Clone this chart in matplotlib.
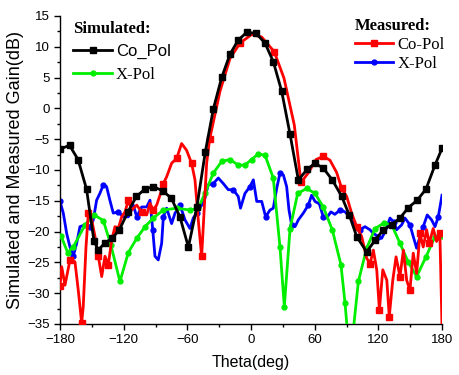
import matplotlib
matplotlib.use("Agg")
import matplotlib.pyplot as plt
from matplotlib.ticker import MultipleLocator

# === DATA ===
sim_co_theta = [-180, -171, -163, -155, -148, -144, -138, -131, -124, -116, -108, -100, -92,
                -83, -75, -67, -59, -51, -43, -35.5, -27.6, -19.8, -12, -4, 4.7, 13.2, 21,
                28.9, 36.8, 44.6, 53, 60.3, 68.1, 76.6, 85.5, 92.6, 99.6, 109, 116.9, 124.7,
                132.6, 140.4, 148.3, 156.7, 164.9, 173.4, 180]
sim_co_gain = [-6.6, -6.0, -8.3, -13.1, -21.5, -23, -21.9, -21.1, -19.7, -16.8, -14.3, -13.1, -12.7,
               -13.4, -14.6, -17.6, -22.5, -16, -7.0, -0.1, 5.05, 8.8, 11.1, 12.35, 12.2, 10.6, 7.6,
               2.8, -4.2, -11.6, -9.9, -8.9, -9.7, -11.6, -14.3, -17.3, -20.8, -23.3, -21.4, -19.7,
               -18.9, -17.8, -16.1, -14.9, -13.1, -9.2, -6.5]

sim_x_theta = [-179, -172.8, -167.5, -156.4, -147.7, -139.2, -132, -123.5, -115.6, -107.7, -99.9,
               -92.1, -82.6, -70, -57.5, -49.7, -43.4, -35.5, -27.6, -19.8, -12, -5.7, 0.5, 6.8,
               13.2, 21, 27.3, 31.4, 36.8, 44, 52.5, 60.3, 68.1, 76.6, 84.8, 88.6, 90.8, 93.5,
               96.4, 101.2, 109, 116.9, 125.3, 132.6, 140.4, 148.3, 156.1, 164.9, 173.4, 180]
sim_x_gain = [-20.7, -23.4, -22.5, -18.9, -17.3, -18.2, -22.2, -28.1, -23.4, -21.1, -19.2,
              -17.8, -16.5, -16.2, -16.5, -16.2, -13.8, -10.5, -8.6, -8.3, -9.2, -9.2, -8.3, -7.4,
              -7.6, -11.3, -22.5, -32.2, -19.5, -13.8, -13.0, -13.8, -16.0, -19.7, -25.4, -31.6,
              -36, -38, -36, -28.1, -22.7, -19.5, -18.6, -18.9, -21.9, -25, -27.3, -24.1, -20.8, -20.7]

meas_co_theta = [-180, -178.4, -175.3, -170.6, -165.9, -162.8, -159.6, -158.1, -155.5, -153.3,
                 -150.1, -147, -143.9, -140.7, -137.6, -134.5, -131.3, -128.2, -125, -121.9,
                 -118.7, -115.6, -112.4, -107.7, -103, -98.3, -95.2, -92.1, -88.9, -85.8, -82.6,
                 -79.5, -74.8, -70, -65.4, -60.7, -56, -52.8, -49.7, -46.5, -44.3, -41.8, -39,
                 -29.2, -19.8, -10.4, 0.6, 10, 21.9, 31.1, 40.8, 47.1, 53.9, 61.3, 68.1, 74.4,
                 80.7, 85.5, 90.2, 94.8, 99.6, 104.3, 109, 112.2, 115.3, 118.5, 121, 124.2, 128,
                 130.3, 133.6, 136.7, 140.4, 143.6, 146.7, 149.8, 152.9, 156.1, 159.2, 162.3,
                 165.5, 168, 171.7, 174.9, 178, 180]
meas_co_gain = [-28.8, -25.7, -28.7, -24.6, -24.9, -29.5, -34.8, -32.2, -22.5, -17,
                -18.1, -20.8, -24, -27.3, -24, -25.4, -21.4, -19.2, -19.5, -17.6,
                -16.8, -14.9, -16.5, -15.7, -16.8, -17.3, -15.4, -16.5, -15.7, -14.1, -12.2,
                -11.1, -8.9, -8.1, -5.7, -6.8, -8.9, -11.6, -18.1, -24, -17, -8.9, -5.0,
                2.8, 8.1, 10.6, 12.0, 11.6, 9.2, 4.9, -2.7, -12.0, -10.5, -8.3, -7.8, -8.4,
                -10.4, -13, -14.3, -17, -19.2, -20.8, -24.3, -25.2, -23, -26.2, -32.7, -26.2, -27.9,
                -33.8, -27.9, -24.1, -27.3, -23, -27.9, -29.5, -23.5, -26.8, -20.3, -22.5,
                -19.7, -21.9, -19.5, -21.6, -20.3, -35.4]

meas_x_theta = [-180, -176.9, -173.7, -170.6, -167.5, -164.3, -161.2, -156.5, -151.7, -148.6,
                -145.5, -142.4, -139.2, -136.1, -133, -129.8, -125.1, -120.4, -115.6, -110.9,
                -107.7, -103, -98.3, -95.2, -92.6, -90.5, -87.4, -84.2, -82.6, -79.5, -74.8,
                -71.6, -66.9, -62.2, -57.5, -54.4, -51.2, -46.5, -43.3, -40.3, -35.5, -30.8,
                -26.1, -21.4, -16.7, -12, -9.9, -5.7, -1, 2.2, 5.4, 10.1, 13.8, 17.9, 21, 24.2,
                27.3, 30.5, 33.6, 35.8, 38.3, 41.5, 44.6, 49.3, 54, 57.1, 60.3, 64.4, 68.1,
                71.3, 75.3, 79, 83.9, 88.6, 93.3, 98, 102.7, 107.4, 112.1, 115.3, 120, 123.1,
                127.2, 131, 134.8, 137.3, 142, 145.1, 149.8, 152.9, 156.1, 159.2, 162.3, 166.1,
                170.2, 173.4, 176.5, 180]
meas_x_gain = [-15.1, -17, -20.3, -22.5, -24, -21.9, -19.2, -18.9, -19.2, -18.1,
               -14.9, -13.8, -12.4, -12.7, -14.9, -17, -16.8, -17.6, -17.6, -15.7,
               -17.6, -16, -16, -14.9, -19.7, -24, -24.6, -21.9, -17.6, -16.2, -18.7,
               -17, -15.7, -18.1, -19.5, -17.8, -17, -15.7, -14.5, -12.4, -12.2, -11.3,
               -12.2, -13.2, -13.2, -14.3, -16.2, -13.8, -12.7, -11.6, -15.1, -15.1, -17.6, -16.5,
               -16.2, -13, -10.5, -10.8, -12.7, -16.5, -18.9, -19.2, -18.1, -17, -15.7, -14.1,
               -15.1, -15.5, -17.6, -17.8, -16.8, -17.2, -16.5, -16.8, -17.6, -18.9, -19.7,
               -19.2, -19.7, -20.3, -20.8, -21.1, -19.7, -17.8, -18.5, -19.7, -18.9, -17.8,
               -18.9, -20.8, -22.7, -20.8, -19.2, -17.3, -18.1, -19.2, -17.6, -14.1]

# === PLOT ===
fig = plt.figure(figsize=(4.59, 3.75), dpi=100)
ax = fig.add_axes([60 / 459, 51 / 375, 382 / 459, 308 / 375])

lw = 2.0
l1, = ax.plot(sim_co_theta, sim_co_gain, color="black", lw=lw, marker="s", ms=4,
              label="Co_Pol", zorder=5)
l2, = ax.plot(sim_x_theta, sim_x_gain, color="#00ee00", lw=lw, marker="o", ms=3.5,
              label="X-Pol", zorder=3)
l3, = ax.plot(meas_co_theta, meas_co_gain, color="red", lw=lw, marker="s", ms=4,
              markevery=3, label="Co-Pol", zorder=4)
l4, = ax.plot(meas_x_theta, meas_x_gain, color="blue", lw=lw, marker="o", ms=3.5,
              markevery=4, label="X-Pol", zorder=2)

ax.set_xlim(-180, 180)
ax.set_ylim(-35, 15)
ax.xaxis.set_major_locator(MultipleLocator(60))
ax.xaxis.set_minor_locator(MultipleLocator(30))
ax.yaxis.set_major_locator(MultipleLocator(5))
ax.yaxis.set_minor_locator(MultipleLocator(2.5))
ax.tick_params(which="major", direction="out", length=4, width=1, labelsize=9.5)
ax.tick_params(which="minor", direction="out", length=2.5, width=1)
for s in ["top", "right"]:
    ax.spines[s].set_visible(False)
for s in ["left", "bottom"]:
    ax.spines[s].set_linewidth(1)

ax.set_xlabel("Theta(deg)", fontsize=11.5, family="Liberation Sans", labelpad=6)
ax.set_ylabel("Simulated and Measured Gain(dB)", fontsize=13, family="Liberation Sans", labelpad=2)
for t in ax.get_xticklabels() + ax.get_yticklabels():
    t.set_family("Liberation Sans")

serif = {"family": "Liberation Serif", "size": 12}
title_font = {"family": "Liberation Serif", "size": 12, "weight": "bold"}

leg1 = ax.legend(handles=[l1, l2], loc="upper left", bbox_to_anchor=(0.035, 0.985),
                 frameon=False, title="Simulated:", title_fontproperties=title_font,
                 alignment="left", prop=serif, handlelength=2.3, handletextpad=0.25,
                 labelspacing=0.45, borderpad=0, borderaxespad=0, numpoints=1)
leg1.get_texts()[0].set_family("Liberation Sans")
ax.add_artist(leg1)

leg2 = ax.legend(handles=[l3, l4], loc="upper left", bbox_to_anchor=(0.772, 0.995),
                 frameon=False, title="Measured:", title_fontproperties=title_font,
                 alignment="left", prop=serif, handlelength=2.3, handletextpad=0.25,
                 labelspacing=0.2, borderpad=0, borderaxespad=0, numpoints=1)

fig.savefig("out.png", dpi=100)
